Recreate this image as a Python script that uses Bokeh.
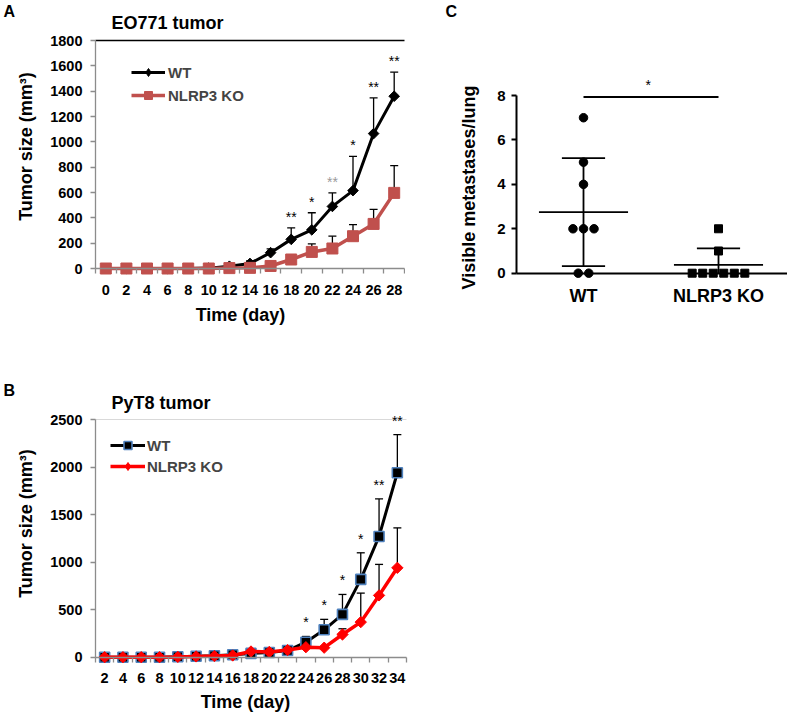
import numpy as np
from bokeh.plotting import figure
from bokeh.models import (ColumnDataSource, FixedTicker, Legend, LegendItem,
                          Label, Range1d)
from bokeh.layouts import column, row
from bokeh.embed import file_html
from bokeh.resources import INLINE
from bokeh.core.properties import value

FONT = "Liberation Sans"

# ---------------- Panel A: EO771 tumor ----------------
a_days = [0, 2, 4, 6, 8, 10, 12, 14, 16, 18, 20, 22, 24, 26, 28]
a_wt = [0, 0, 0, 0, 0, 3, 18, 40, 125, 230, 305, 490, 615, 1065, 1360]
a_wt_err = [0, 0, 0, 0, 0, 0, 15, 20, 30, 90, 135, 107, 270, 282, 190]
a_ko = [0, 0, 0, 0, 0, 0, 3, 5, 20, 71, 131, 158, 255, 352, 597]
a_ko_err = [0, 0, 0, 0, 0, 0, 0, 5, 10, 20, 63, 97, 92, 114, 215]
a_star_days = [18, 20, 22, 24, 26, 28]
a_star_marks = ["**", "*", "**", "*", "**", "**"]
a_yticks = [0, 200, 400, 600, 800, 1000, 1200, 1400, 1600, 1800]

# ---------------- Panel B: PyT8 tumor ----------------
b_days = [2, 4, 6, 8, 10, 12, 14, 16, 18, 20, 22, 24, 26, 28, 30, 32, 34]
b_wt = [0, 0, 0, 0, 5, 10, 15, 25, 40, 50, 70, 158, 288, 450, 818, 1270, 1940]
b_wt_err = [0, 0, 0, 0, 0, 0, 0, 0, 0, 0, 10, 60, 110, 210, 280, 395, 400]
b_ko = [0, 0, 0, 0, 3, 8, 12, 18, 60, 55, 75, 105, 100, 239, 369, 650, 940]
b_ko_err = [0, 0, 0, 0, 0, 0, 0, 0, 0, 0, 0, 0, 10, 60, 305, 326, 420]
b_star_days = [24, 26, 28, 30, 32, 34]
b_star_marks = ["*", "*", "*", "*", "**", "**"]
b_yticks = [0, 500, 1000, 1500, 2000, 2500]

# ---------------- Panel C: lung metastases ----------------
c_groups = ["WT", "NLRP3 KO"]
c_wt = [7, 5, 4, 2, 2, 2, 0, 0]
c_ko = [2, 1, 0, 0, 0, 0, 0, 0]
c_yticks = [0, 2, 4, 6, 8]
c_sig_mark = "*"


def add_label(p, x, y, text, size, style="bold", align="left",
              baseline="middle", angle=0.0, color="black"):
    p.add_layout(Label(x=x, y=y, text=text, text_font=FONT,
                       text_font_size=size, text_font_style=style,
                       text_align=align, text_baseline=baseline,
                       angle=angle, text_color=color))


def blank_figure(width, height, xr, yr):
    p = figure(width=width, height=height, x_range=Range1d(*xr),
               y_range=Range1d(*yr), output_backend="svg",
               toolbar_location=None, min_border=0, min_border_left=0,
               min_border_right=0, min_border_top=0, min_border_bottom=0)
    p.grid.visible = False
    p.outline_line_color = None
    return p


def growth_panel(width, height, fx, fy, days, wt, wt_err, ko, ko_err, yticks,
                 wt_line, wt_marker, wt_legend_marker, ko_line, ko_marker,
                 ko_legend_marker, star_days, star_marks, star_colors,
                 star_off, top_color, top_width, legend_loc, legend_glyph_w,
                 legend_spacing, legend_standoff, tick_size):
    xlo = days[0] - 1
    xhi = days[-1] + 1
    p = blank_figure(width, height, (fx(0), fx(width)), (fy(height), fy(0)))
    axis_color = "#8c8c8c"

    xa = p.xaxis[0]
    minor = [d - 1 for d in days] + [xhi]
    xa.ticker = FixedTicker(ticks=days, minor_ticks=minor)
    xa.fixed_location = 0
    xa.bounds = (xlo, xhi)
    xa.axis_line_color = axis_color
    xa.axis_line_width = 1.3
    xa.major_tick_out = 0
    xa.major_tick_in = 0
    xa.major_tick_line_color = None
    xa.minor_tick_out = 5
    xa.minor_tick_in = 0
    xa.minor_tick_line_color = axis_color
    xa.minor_tick_line_width = 1.3
    xa.major_label_standoff = 11
    xa.major_label_text_font = FONT
    xa.major_label_text_font_size = tick_size
    xa.major_label_text_font_style = "bold"
    xa.major_label_text_color = "black"

    ya = p.yaxis[0]
    ya.ticker = FixedTicker(ticks=yticks, minor_ticks=[])
    ya.fixed_location = xlo
    ya.bounds = (yticks[0], yticks[-1])
    ya.axis_line_color = axis_color
    ya.axis_line_width = 1.3
    ya.major_tick_out = 5
    ya.major_tick_in = 0
    ya.major_tick_line_color = axis_color
    ya.major_tick_line_width = 1.3
    ya.minor_tick_line_color = None
    ya.major_label_standoff = 8
    ya.major_label_text_font = FONT
    ya.major_label_text_font_size = tick_size
    ya.major_label_text_font_style = "bold"
    ya.major_label_text_color = "black"

    p.segment(x0=[xlo], y0=[yticks[-1]], x1=[xhi], y1=[yticks[-1]],
              line_color=top_color, line_width=top_width)

    wt_top = [m + e for m, e in zip(wt, wt_err)]
    ko_top = [m + e for m, e in zip(ko, ko_err)]
    src_wt = ColumnDataSource(dict(x=days, y=wt, top=wt_top))
    src_ko = ColumnDataSource(dict(x=days, y=ko, top=ko_top))
    for src in (src_wt, src_ko):
        p.segment(x0="x", y0="y", x1="x", y1="top", source=src,
                  line_color="black", line_width=1.3)
        p.scatter(x="x", y="top", marker="dash", size=8, source=src,
                  line_color="black", line_width=1.3)

    l1 = p.line("x", "y", source=src_wt, **wt_line)
    p.scatter("x", "y", source=src_wt, **wt_marker)
    l2 = p.line("x", "y", source=src_ko, **ko_line)
    p.scatter("x", "y", source=src_ko, **ko_marker)

    # swatch carriers for the legend only: one point far outside the view
    off_x = [xhi + 10 * (xhi - xlo)]
    lm1 = p.scatter(x=off_x, y=[0], **wt_legend_marker)
    lm2 = p.scatter(x=off_x, y=[0], **ko_legend_marker)

    top_map = dict(zip(days, wt_top))
    p.text(x=star_days, y=[top_map[d] for d in star_days], text=star_marks,
           text_color=star_colors, text_align="center",
           text_baseline="bottom", y_offset=star_off,
           text_font=value(FONT), text_font_size="14px")

    legend = Legend(items=[LegendItem(label="WT", renderers=[l1, lm1]),
                           LegendItem(label="NLRP3 KO", renderers=[l2, lm2])],
                    location=legend_loc, orientation="vertical",
                    glyph_width=legend_glyph_w, glyph_height=20,
                    spacing=legend_spacing, padding=0, margin=0,
                    label_standoff=legend_standoff,
                    label_text_font=FONT, label_text_font_size="15px",
                    label_text_font_style="bold",
                    border_line_color=None, background_fill_alpha=0)
    p.add_layout(legend)
    return p


# ---------- Panel A (page box 0..405 x 0..365) ----------
A_W, A_H = 405, 365


def ax_(px):
    return -1 + (px - 95) / 10.3


def ay_(py):
    return (268 - py) * 1800 / 228.0


pa = growth_panel(
    A_W, A_H, ax_, ay_,
    a_days, a_wt, a_wt_err, a_ko, a_ko_err, a_yticks,
    dict(line_color="black", line_width=3),
    dict(marker="square", angle=np.pi / 4, size=7.5, fill_color="black",
         line_color="black"),
    dict(marker="diamond", size=10, fill_color="black", line_color="black"),
    dict(line_color="#C0504D", line_width=3.5),
    dict(marker="square", size=11, fill_color="#C0504D",
         line_color="#C0504D"),
    dict(marker="square", size=11, fill_color="#C0504D",
         line_color="#C0504D"),
    a_star_days, a_star_marks,
    ["black", "black", "#9a9a9a", "black", "black", "black"], -3,
    "black", 1.5, (131, A_H - 105), 34, 3, 3, "14.5px")

add_label(pa, ax_(3), ay_(11), "A", "16px")
add_label(pa, ax_(111), ay_(22), "EO771 tumor", "18px")
add_label(pa, ax_(25), ay_(146), "Tumor size (mm³)", "18px", align="center",
          angle=np.pi / 2)
add_label(pa, ax_(240), ay_(314), "Time (day)", "18px", align="center")

# ---------- Panel B (page box 0..410 x 365..714) ----------
B_W, B_H, B_TOP = 410, 349, 365


def bx_(px):
    return 1 + (px - 95) / 9.147


def by_(py):
    return (656.7 - py) * 2500 / 237.7


def by_local(py):
    return by_(py + B_TOP)


pb = growth_panel(
    B_W, B_H, bx_, by_local,
    b_days, b_wt, b_wt_err, b_ko, b_ko_err, b_yticks,
    dict(line_color="black", line_width=3),
    dict(marker="square", size=10, fill_color="black", line_color="#4F81BD",
         line_width=1.6),
    dict(marker="square", size=10, fill_color="black", line_color="#4F81BD",
         line_width=1.6),
    dict(line_color="#FF0000", line_width=3.5),
    dict(marker="square", angle=np.pi / 4, size=8, fill_color="#FF0000",
         line_color="#FF0000"),
    dict(marker="diamond", size=10, fill_color="#FF0000",
         line_color="#FF0000"),
    b_star_days, b_star_marks, ["black"] * len(b_star_days), -6,
    "#d9d9d9", 1, (110, 714 - 476), 35, 1, 2, "14.5px")

add_label(pb, bx_(3), by_(390), "B", "16px")
add_label(pb, bx_(111), by_(402), "PyT8 tumor", "18px")
add_label(pb, bx_(25), by_(523), "Tumor size (mm³)", "18px", align="center",
          angle=np.pi / 2)
add_label(pb, bx_(245), by_(701), "Time (day)", "18px", align="center")

# ---------- Panel C (page box 405..787 x 0..365) ----------
C_W, C_H, C_LEFT = 382, 365, 405


def cx_(px):
    return 1 + (px - 583) / 135.0


def cy_(py):
    return (272.7 - py) / 22.21


pc = blank_figure(C_W, C_H, (cx_(C_LEFT), cx_(C_LEFT + C_W)),
                  (cy_(C_H), cy_(0)))

cxa = pc.xaxis[0]
cxa.ticker = FixedTicker(ticks=[1, 2], minor_ticks=[])
cxa.major_label_overrides = {i + 1: g for i, g in enumerate(c_groups)}
cxa.fixed_location = 0
cxa.bounds = (cx_(516), cx_(C_LEFT + C_W))
cxa.axis_line_color = "black"
cxa.axis_line_width = 2
cxa.major_tick_out = 0
cxa.major_tick_in = 0
cxa.major_tick_line_color = None
cxa.minor_tick_line_color = None
cxa.major_label_standoff = 13
cxa.major_label_text_font = FONT
cxa.major_label_text_font_size = "18px"
cxa.major_label_text_font_style = "bold"
cxa.major_label_text_color = "black"

cya = pc.yaxis[0]
cya.ticker = FixedTicker(ticks=c_yticks, minor_ticks=[])
cya.fixed_location = cx_(516)
cya.bounds = (c_yticks[0], c_yticks[-1])
cya.axis_line_color = "black"
cya.axis_line_width = 2
cya.major_tick_out = 5
cya.major_tick_in = 0
cya.major_tick_line_color = "black"
cya.major_tick_line_width = 2
cya.minor_tick_line_color = None
cya.major_label_standoff = 6
cya.major_label_text_font = FONT
cya.major_label_text_font_size = "15px"
cya.major_label_text_font_style = "bold"
cya.major_label_text_color = "black"


def jitter(vals, step=0.078):
    vals = np.asarray(vals, dtype=float)
    off = np.zeros(len(vals))
    for v in np.unique(vals):
        idx = np.where(vals == v)[0]
        k = len(idx)
        off[idx] = (np.arange(k) - (k - 1) / 2.0) * step
    return off


for gi, (vals, marker, size) in enumerate([(c_wt, "circle", 8.5),
                                           (c_ko, "square", 8)]):
    xc = gi + 1
    arr = np.asarray(vals, dtype=float)
    m = arr.mean()
    sd = arr.std(ddof=1)
    hi, lo = m + sd, m - sd
    segs_x0 = [xc - 0.33, xc - 0.16, xc]
    segs_x1 = [xc + 0.33, xc + 0.16, xc]
    segs_y0 = [m, hi, max(lo, 0)]
    segs_y1 = [m, hi, hi]
    if lo >= 0:
        segs_x0.append(xc - 0.16)
        segs_x1.append(xc + 0.16)
        segs_y0.append(lo)
        segs_y1.append(lo)
    pc.segment(x0=segs_x0, y0=segs_y0, x1=segs_x1, y1=segs_y1,
               line_color="black", line_width=1.8)
    src = ColumnDataSource(dict(x=xc + jitter(vals), y=arr))
    pc.scatter("x", "y", source=src, marker=marker, size=size,
               fill_color="black", line_color="black")

sig_y = 7.93
pc.segment(x0=[1], y0=[sig_y], x1=[2], y1=[sig_y], line_color="black",
           line_width=2)
pc.text(x=[1.48], y=[sig_y], text=[c_sig_mark], text_align="center",
        text_baseline="bottom", y_offset=-4, text_font=value(FONT),
        text_font_size="14px", text_color="black")

add_label(pc, cx_(445), cy_(11), "C", "16px")
add_label(pc, cx_(468), cy_(187), "Visible metastases/lung", "18px",
          align="center", angle=np.pi / 2)

layout = column(row(pa, pc), pb)

with open("out.html", "w") as f:
    f.write(file_html(layout, INLINE))
